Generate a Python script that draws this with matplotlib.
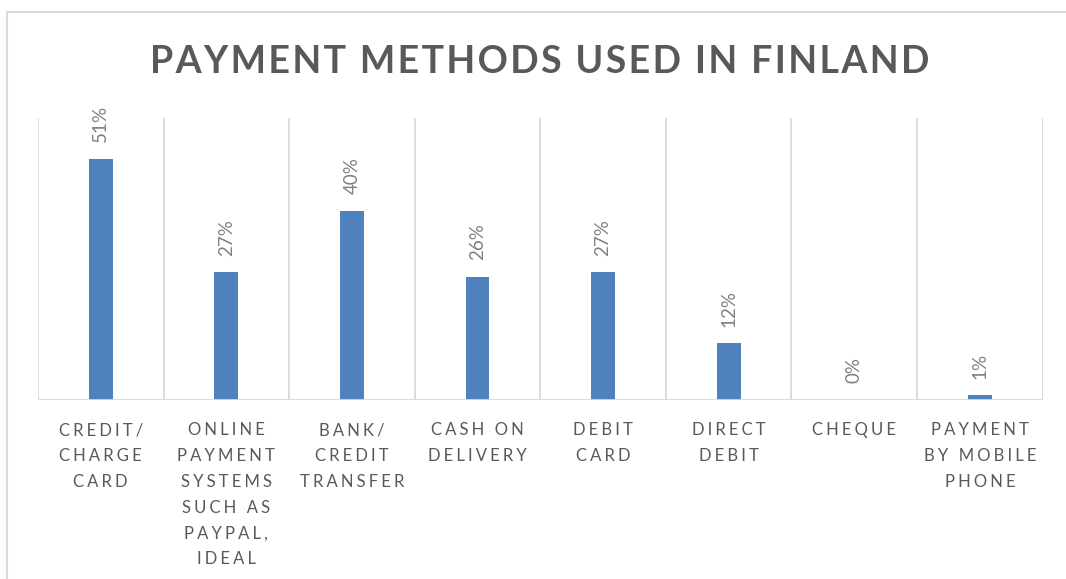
import matplotlib
matplotlib.use("Agg")
import matplotlib.pyplot as plt
from matplotlib.lines import Line2D

categories = [
    "CREDIT/\nCHARGE\nCARD",
    "ONLINE\nPAYMENT\nSYSTEMS\nSUCH AS\nPAYPAL,\nIDEAL",
    "BANK/\nCREDIT\nTRANSFER",
    "CASH ON\nDELIVERY",
    "DEBIT\nCARD",
    "DIRECT\nDEBIT",
    "CHEQUE",
    "PAYMENT\nBY MOBILE\nPHONE",
]
values = [51, 27, 40, 26, 27, 12, 0, 1]
title = "PAYMENT METHODS USED IN FINLAND"

FONT = ["Lato", "DejaVu Sans"]
GRID = "#D9D9D9"
TEXT = "#595959"


def spaced(s, gap="\u2009"):
    # crude letter spacing: a narrow space between characters of each line
    return "\n".join(gap.join(line) for line in s.split("\n"))


fig = plt.figure(figsize=(10.66, 5.79), dpi=100)
ax = fig.add_axes([0.0356, 0.309, 0.9425, 0.487])

x = list(range(len(values)))
ax.bar(x, values, width=0.19, color="#4F81BD", zorder=3)
ax.set_xlim(-0.5, len(values) - 0.5)
ax.set_ylim(0, 59.6)

# vertical separators between categories
for b in range(len(values) + 1):
    ax.axvline(b - 0.5, color=GRID, lw=1.3, zorder=1)

for sp in ax.spines.values():
    sp.set_visible(False)
ax.axhline(0, color=GRID, lw=2, zorder=4)
ax.set_yticks([])
ax.set_xticks(x)
ax.set_xticklabels([spaced(c, "\u2009\u200a") for c in categories], family=FONT,
                   fontsize=12, color=TEXT, linespacing=1.75)
ax.tick_params(axis="x", length=0, pad=16)

for xi, v in zip(x, values):
    ax.annotate(f"{v}%", (xi, v), xytext=(0, 12), textcoords="offset points",
                rotation=90, ha="center", va="bottom", family=FONT,
                fontsize=13.5, color="#808080")

fig.text(0.506, 0.893, spaced(title, "\u200a"), ha="center", va="center",
         family=FONT, fontsize=27, fontweight="bold", color=TEXT)

# outer chart frame (top and left edges visible)
fig.add_artist(Line2D([0.0066, 1.0], [0.980, 0.980], color=GRID, lw=1.5))
fig.add_artist(Line2D([0.0066, 0.0066], [0.0, 0.980], color=GRID, lw=1.5))

fig.savefig("out.png", dpi=100, facecolor="white")
